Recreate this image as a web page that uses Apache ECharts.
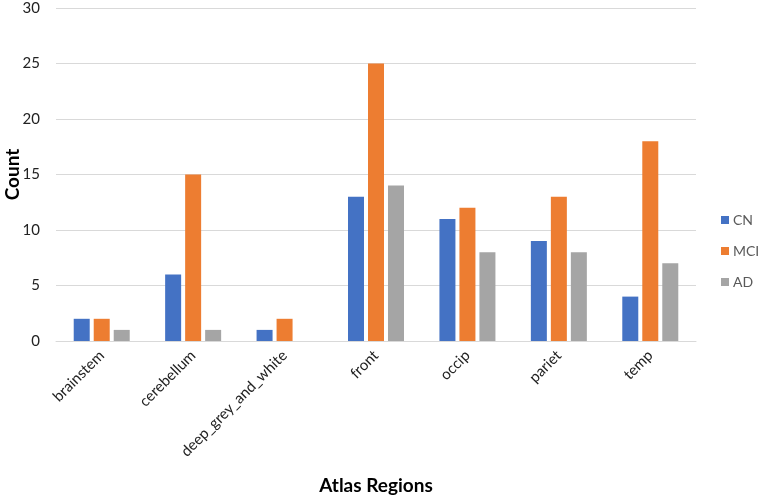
<!DOCTYPE html>
<html><head><meta charset="utf-8">
<script src="https://cdn.jsdelivr.net/npm/echarts@6/dist/echarts.min.js"></script>
<style>html,body{margin:0;padding:0;background:#fff}#c{width:762px;height:496px}</style>
</head><body><div id="c"></div>
<script>
const categories = ['brainstem','cerebellum','deep_grey_and_white','front','occip','pariet','temp'];
const cnValues = [2, 6, 1, 13, 11, 9, 4];
const mciValues = [2, 15, 2, 25, 12, 13, 18];
const adValues = [1, 1, 0, 14, 8, 8, 7];
const seriesNames = ['CN','MCI','AD'];
const colors = ['#4472C4','#ED7D31','#A5A5A5'];

const chart = echarts.init(document.getElementById('c'));
const font = 'Lato, "Open Sans", sans-serif';
chart.setOption({
  animation: false,
  textStyle: {fontFamily: font},
  grid: {left: 56, right: 66, top: 8, bottom: 155, containLabel: false, outerBoundsMode: 'none'},
  legend: {
    orient: 'vertical', left: 721, top: 213, padding: 0, itemWidth: 8, itemHeight: 8, itemGap: 17,
    icon: 'rect',
    textStyle: {fontFamily: font, fontSize: 14, color: '#595959', padding: [0, 0, 0, -1]},
    data: seriesNames
  },
  xAxis: {
    type: 'category', data: categories,
    name: 'Atlas Regions', nameLocation: 'middle', nameGap: 135, nameMoveOverlap: false,
    nameTextStyle: {fontFamily: font, fontSize: 19, fontWeight: 'bold', color: '#000'},
    axisLine: {lineStyle: {color: '#d9d9d9'}},
    axisTick: {show: false},
    axisLabel: {rotate: 45, fontSize: 15, color: '#222', margin: 12, interval: 0}
  },
  yAxis: {
    type: 'value', min: 0, max: 30, interval: 5,
    name: 'Count', nameLocation: 'middle', nameGap: 34, nameMoveOverlap: false,
    nameTextStyle: {fontFamily: font, fontSize: 19, fontWeight: 'bold', color: '#000'},
    axisLine: {show: false}, axisTick: {show: false},
    axisLabel: {fontSize: 15, color: '#222', margin: 16},
    splitLine: {lineStyle: {color: '#d9d9d9'}}
  },
  series: seriesNames.map((n, i) => ({
    name: n, type: 'bar', barWidth: 16, barGap: '25%',
    data: [cnValues, mciValues, adValues][i],
    itemStyle: {color: colors[i]}
  }))
});
</script></body></html>
